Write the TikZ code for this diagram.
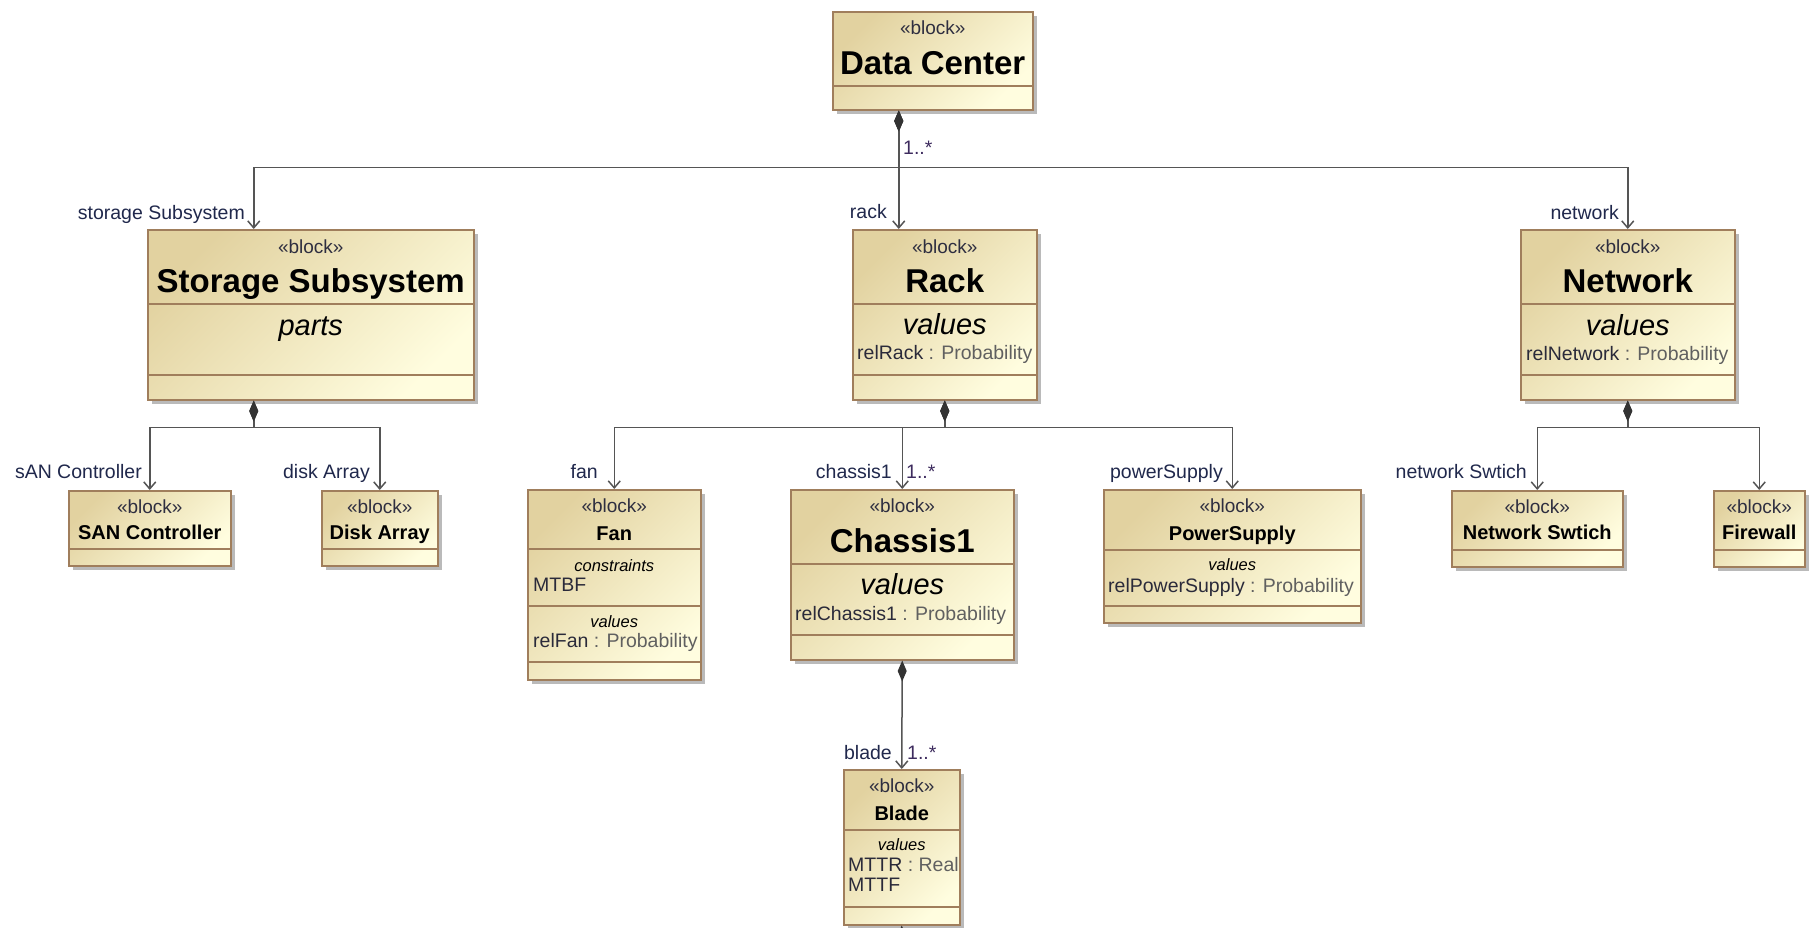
\documentclass[tikz,border=0pt]{standalone}
\usepackage{fontspec}
\setmainfont{Liberation Sans}
\usetikzlibrary{arrows.meta,shadows}

\definecolor{blkdark}{HTML}{E2D2A0}
\definecolor{blklight}{HTML}{FFFDDF}
\definecolor{blkline}{HTML}{A07E5C}
\definecolor{lnk}{HTML}{555555}
\definecolor{lnkdark}{HTML}{333333}
\definecolor{stereocol}{HTML}{2E2E40}
\definecolor{rolecol}{HTML}{20284C}
\definecolor{multcol}{HTML}{3D2B5E}
\definecolor{propcol}{HTML}{2A2A3A}
\definecolor{typecol}{HTML}{606060}

\newcommand{\fsz}[1]{\fontsize{#1}{#1}\selectfont}
\newcommand{\ptype}[1]{\textcolor{typecol}{#1}}

% block: name, x, y (top left), width, height, divider offsets from the top
\newcommand{\umlblock}[6]{%
  \node[block, minimum width=#4, minimum height=#5] (#1) at (#2,#3) {};
  \foreach \d in {#6}
    \draw[divider] ([yshift=-\d]#1.north west) -- ([yshift=-\d]#1.north east);}

\tikzset{
  block/.style={draw=blkline, line width=1.5pt, inner sep=0pt, anchor=north west,
    left color=blkdark, right color=blklight, shading angle=45,
    drop shadow={shadow xshift=4pt, shadow yshift=-4pt, fill=black!45, opacity=.6}},
  divider/.style={draw=blkline, line width=1.5pt},
  stereo/.style={anchor=base, inner sep=0pt, text=stereocol, font=\fsz{19}},
  bigname/.style={anchor=base, inner sep=0pt, font=\fsz{33}\bfseries},
  bname/.style={anchor=base, inner sep=0pt, font=\fsz{20}\bfseries},
  bigsect/.style={anchor=base, inner sep=0pt, font=\fsz{29}\itshape},
  sect/.style={anchor=base, inner sep=0pt, font=\fsz{16.5}\itshape},
  prop/.style={anchor=base west, inner sep=0pt, text=propcol, font=\fsz{19.5}},
  role/.style={anchor=base east, inner sep=0pt, text=rolecol, font=\fsz{19.5}},
  mult/.style={anchor=base west, inner sep=0pt, text=multcol, font=\fsz{19.5}},
  link/.style={draw=lnk, line width=1.5pt},
  comp/.style={link, {Diamond[length=21pt,width=9pt,color=lnkdark]}-{Straight Barb[length=7pt,width=12pt]}},
}

\begin{document}
\begin{tikzpicture}[x=1pt, y=-1pt]
\useasboundingbox (0,0) rectangle (1809,927);
\fill[white] (0,0) rectangle (1809,927);

% blocks
\umlblock{dc}{832}{11}{200}{98}{75}
\umlblock{storage}{147}{229}{326}{170}{75,146}
\umlblock{rack}{852}{229}{184}{170}{75,146}
\umlblock{network}{1520}{229}{214}{170}{75,146}
\umlblock{san}{68}{490}{162}{75}{59}
\umlblock{disk}{321}{490}{116}{75}{59}
\umlblock{fan}{527}{489}{173}{190}{60,117,173}
\umlblock{chassis}{790}{489}{223}{170}{75,146}
\umlblock{psu}{1103}{489}{257}{133}{61,117}
\umlblock{nswitch}{1451}{490}{171}{76}{60}
\umlblock{firewall}{1713}{490}{91}{76}{60}
\umlblock{blade}{843}{769}{116}{155}{61,138}

% compartments
\node[stereo] (dc-st) at (dc.north |- 0,34) {«block»};
\node[bigname] (dc-nm) at (dc.north |- 0,74) {Data Center};

\node[stereo] (storage-st) at (storage.north |- 0,253) {«block»};
\node[bigname] (storage-nm) at (storage.north |- 0,292) {Storage Subsystem};
\node[bigsect] (storage-parts) at (storage.north |- 0,335) {parts};

\node[stereo] (rack-st) at (rack.north |- 0,253) {«block»};
\node[bigname] (rack-nm) at (rack.north |- 0,292) {Rack};
\node[bigsect] (rack-val) at (rack.north |- 0,334) {values};
\node[prop] (rack-p) at (857,359) {relRack \ptype{: Probability}};

\node[stereo] (network-st) at (network.north |- 0,253) {«block»};
\node[bigname] (network-nm) at (network.north |- 0,292) {Network};
\node[bigsect] (network-val) at (network.north |- 0,335) {values};
\node[prop] (network-p) at (1526,360) {relNetwork \ptype{: Probability}};

\node[stereo] (san-st) at (san.north |- 0,513) {«block»};
\node[bname] (san-nm) at (san.north |- 0,539) {SAN Controller};
\node[stereo] (disk-st) at (disk.north |- 0,513) {«block»};
\node[bname] (disk-nm) at (disk.north |- 0,539) {Disk Array};

\node[stereo] (fan-st) at (fan.north |- 0,512) {«block»};
\node[bname] (fan-nm) at (fan.north |- 0,540) {Fan};
\node[sect] (fan-con) at (fan.north |- 0,571) {constraints};
\node[prop] (fan-c) at (533,591) {MTBF};
\node[sect] (fan-val) at (fan.north |- 0,627) {values};
\node[prop] (fan-p) at (533,647) {relFan \ptype{: Probability}};

\node[stereo] (chassis-st) at (chassis.north |- 0,512) {«block»};
\node[bigname] (chassis-nm) at (chassis.north |- 0,552) {Chassis1};
\node[bigsect] (chassis-val) at (chassis.north |- 0,594) {values};
\node[prop] (chassis-p) at (795,620) {relChassis1 \ptype{: Probability}};

\node[stereo] (psu-st) at (psu.north |- 0,512) {«block»};
\node[bname] (psu-nm) at (psu.north |- 0,540) {PowerSupply};
\node[sect] (psu-val) at (psu.north |- 0,570) {values};
\node[prop] (psu-p) at (1108,592) {relPowerSupply \ptype{: Probability}};

\node[stereo] (nswitch-st) at (nswitch.north |- 0,513) {«block»};
\node[bname] (nswitch-nm) at (nswitch.north |- 0,539) {Network Swtich};
\node[stereo] (firewall-st) at (firewall.north |- 0,513) {«block»};
\node[bname] (firewall-nm) at (firewall.north |- 0,539) {Firewall};

\node[stereo] (blade-st) at (blade.north |- 0,792) {«block»};
\node[bname] (blade-nm) at (blade.north |- 0,820) {Blade};
\node[sect] (blade-val) at (blade.north |- 0,850) {values};
\node[prop] (blade-p1) at (848,871) {MTTR \ptype{: Real}};
\node[prop] (blade-p2) at (848,891) {MTTF};

% part associations
\draw[comp] ([xshift=-34]dc.south) -- ([xshift=-46]rack.north);
\draw[comp] ([xshift=-34]dc.south) -- ++(0,57) -| ([xshift=-57]storage.north);
\draw[comp] ([xshift=-34]dc.south) -- ++(0,57) -| (network.north);

\draw[comp] ([xshift=-57]storage.south) -- ++(0,27) -| (san.north);
\draw[comp] ([xshift=-57]storage.south) -- ++(0,27) -| (disk.north);

\draw[comp] (rack.south) -- ++(0,27) -| (fan.north);
\draw[comp] (rack.south) -- ++(0,27) -| (chassis.north);
\draw[comp] (rack.south) -- ++(0,27) -| (psu.north);

\draw[comp] (network.south) -- ++(0,27) -| (nswitch.north);
\draw[comp] (network.south) -- ++(0,27) -| (firewall.north);

\draw[comp] (chassis.south) -- (blade.north);
\coordinate (blade-out) at ([yshift=-40]blade.south);
\draw[link, {Diamond[length=21pt,width=9pt,color=lnkdark]}-] (blade.south) -- (blade-out);

% role names and multiplicities
\node[mult] (dc-m) at (903,154) {1..*};
\node[role] (storage-r) at (245,219) {storage Subsystem};
\node[role] (rack-r) at (887,218) {rack};
\node[role] (network-r) at (1619,219) {network};
\node[role] (san-r) at (142,478) {sAN Controller};
\node[role] (disk-r) at (370,478) {disk Array};
\node[role] (fan-r) at (598,478) {fan};
\node[role] (chassis-r) at (892,478) {chassis1};
\node[mult] (chassis-m) at (906,478) {1..*};
\node[role] (psu-r) at (1223,478) {powerSupply};
\node[role] (nswitch-r) at (1527,478) {network Swtich};
\node[role] (blade-r) at (892,759) {blade};
\node[mult] (blade-m) at (907,759) {1..*};
\end{tikzpicture}
\end{document}
